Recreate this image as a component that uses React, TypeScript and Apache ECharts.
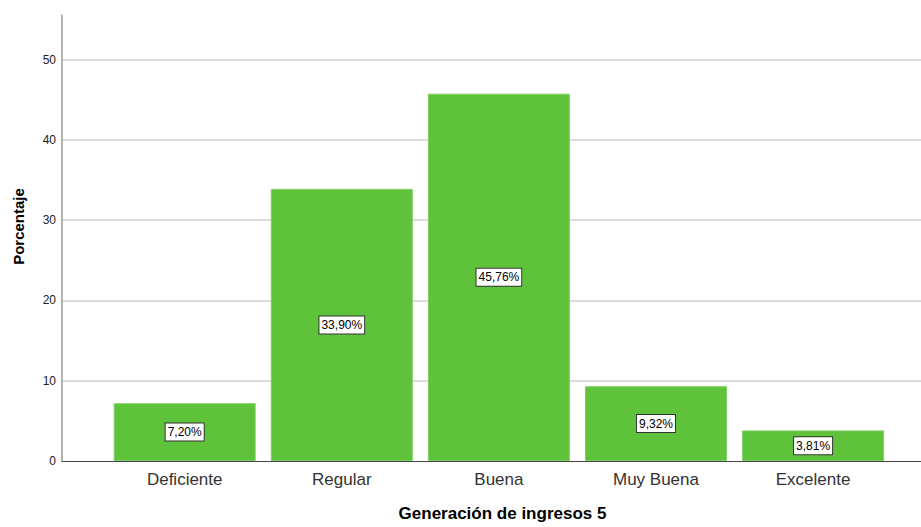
import React, { useEffect, useRef } from "react";
import * as echarts from "echarts";

const categories = ["Deficiente", "Regular", "Buena", "Muy Buena", "Excelente"];
const percentages = [7.2, 33.9, 45.76, 9.32, 3.81];
const categoryPositions = [0, 1, 2, 3, 4];
const yAxisTitle = "Porcentaje";
const xAxisTitle = "Generación de ingresos 5";

const FONT = "'Liberation Sans', Arial, sans-serif";

export default function App() {
  const ref = useRef<HTMLDivElement>(null);

  useEffect(() => {
    if (!ref.current) return;
    const chart = echarts.init(ref.current, undefined, { renderer: "svg" });
    chart.setOption({
      animation: false,
      backgroundColor: "#ffffff",
      textStyle: { fontFamily: FONT },
      grid: { left: 62, right: 0, top: 15, bottom: 62, containLabel: false },
      xAxis: {
        type: "value",
        min: -0.781,
        max: 4.687,
        name: xAxisTitle,
        nameLocation: "middle",
        nameGap: 44,
        nameTextStyle: {
          fontFamily: FONT,
          fontWeight: "bold",
          fontSize: 17,
          color: "#000",
          padding: [0, 0, 0, 22],
        },
        axisLine: { show: true, onZero: false, lineStyle: { color: "#444", width: 1 } },
        axisTick: { show: false },
        splitLine: { show: false },
        axisLabel: {
          customValues: categoryPositions,
          formatter: (v: number) => categories[Math.round(v)] ?? "",
          fontFamily: FONT,
          fontSize: 17,
          color: "#333",
          margin: 10,
        },
      },
      yAxis: {
        type: "value",
        min: 0,
        max: 55.56,
        interval: 10,
        name: yAxisTitle,
        nameLocation: "middle",
        nameGap: 36,
        nameTextStyle: {
          fontFamily: FONT,
          fontWeight: "bold",
          fontSize: 15,
          color: "#000",
          padding: [0, 0, 0, 23],
        },
        axisLine: { show: true, onZero: false, lineStyle: { color: "#9a9a9a", width: 1.5 } },
        axisTick: { show: false },
        splitLine: {
          show: true,
          showMinLine: false,
          showMaxLine: false,
          lineStyle: { color: "#d0d0d0", width: 1.5 },
        },
        axisLabel: {
          formatter: (v: number) => (Math.abs(v % 10) < 1e-9 ? String(v) : ""),
          fontFamily: FONT,
          fontSize: 12,
          color: "#222",
          margin: 6,
          showMaxLabel: false,
        },
      },
      series: [
        {
          type: "bar",
          barWidth: 142,
          data: categoryPositions.map((x, i) => [x, percentages[i]]),
          itemStyle: { color: "#5ec33a", borderColor: "#7fd062", borderWidth: 1 },
          label: {
            show: true,
            position: "inside",
            formatter: (p: any) => p.value[1].toFixed(2).replace(".", ",") + "%",
            fontFamily: FONT,
            fontSize: 12,
            color: "#000",
            backgroundColor: "#ffffff",
            borderColor: "#333",
            borderWidth: 1,
            padding: [3, 2, 2, 2],
          },
        },
      ],
    });
    return () => chart.dispose();
  }, []);

  return (
    <div
      ref={ref}
      style={{ position: "fixed", left: 0, top: 0, width: 921, height: 527 }}
    />
  );
}
